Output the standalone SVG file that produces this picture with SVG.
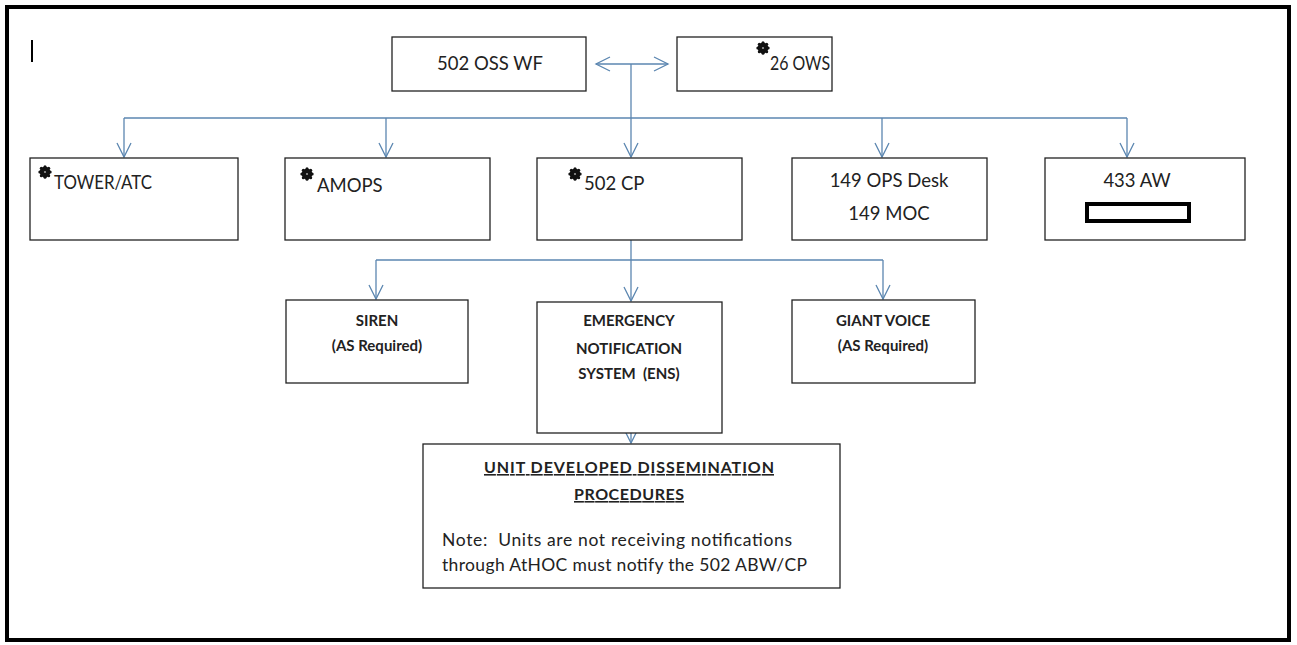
<svg xmlns="http://www.w3.org/2000/svg" width="1297" height="645" viewBox="0 0 1297 645">
<defs>
<style>
.box{fill:#fff;stroke:#222;stroke-width:1.3}
.t{font-family:Lato,"Liberation Sans",sans-serif;font-size:18.5px;fill:#222}
.b{font-family:Lato,"Liberation Sans",sans-serif;font-size:15px;font-weight:bold;fill:#222}
.u{font-family:Lato,"Liberation Sans",sans-serif;font-size:16px;font-weight:bold;fill:#222;text-decoration:underline}
.n{font-family:Lato,"Liberation Sans",sans-serif;font-size:17.5px;fill:#222}
.c{fill:none;stroke:#5b86b0;stroke-width:1.3}
</style>
<marker id="ah" markerUnits="userSpaceOnUse" viewBox="-16 -9 18 18" markerWidth="18" markerHeight="18" refX="0" refY="0" orient="auto-start-reverse">
<path d="M-14,-7 L0,0 L-14,7" fill="none" stroke="#5b86b0" stroke-width="1.3"/>
</marker>
<symbol id="bul" viewBox="-7 -7 14 14" overflow="visible">
<circle r="5.4" fill="#111"/>
<circle cx="0" cy="-5.2" r="1.5" fill="#111"/><circle cx="3.7" cy="-3.7" r="1.5" fill="#111"/><circle cx="5.2" cy="0" r="1.5" fill="#111"/><circle cx="3.7" cy="3.7" r="1.5" fill="#111"/><circle cx="0" cy="5.2" r="1.5" fill="#111"/><circle cx="-3.7" cy="3.7" r="1.5" fill="#111"/><circle cx="-5.2" cy="0" r="1.5" fill="#111"/><circle cx="-3.7" cy="-3.7" r="1.5" fill="#111"/>
<circle r="1.1" fill="#999"/>
</symbol>
</defs>
<rect x="0" y="0" width="1297" height="645" fill="#fff"/>
<rect x="7" y="7" width="1282" height="633" fill="none" stroke="#000" stroke-width="4"/>
<line x1="32" y1="40" x2="32" y2="62" stroke="#000" stroke-width="2"/>

<g id="connectors">
<line class="c" x1="596" y1="64" x2="668" y2="64" marker-start="url(#ah)" marker-end="url(#ah)"/>
<path class="c" d="M631,64 V118"/>
<path class="c" d="M124,118 H1127"/>
<path class="c" d="M124,118 V157" marker-end="url(#ah)"/>
<path class="c" d="M386,118 V157" marker-end="url(#ah)"/>
<path class="c" d="M631,118 V157" marker-end="url(#ah)"/>
<path class="c" d="M882,118 V157" marker-end="url(#ah)"/>
<path class="c" d="M1127,118 V157" marker-end="url(#ah)"/>
<path class="c" d="M631,240 V301" marker-end="url(#ah)"/>
<path class="c" d="M376,260 H883"/>
<path class="c" d="M376,260 V299" marker-end="url(#ah)"/>
<path class="c" d="M883,260 V299" marker-end="url(#ah)"/>
<path class="c" d="M631,433 V443" marker-end="url(#ah)"/>
</g>

<g id="n-oss"><rect class="box" x="392" y="37" width="194" height="54"/><text class="t" x="490" y="70" text-anchor="middle">502 OSS WF</text></g>
<g id="n-ows"><rect class="box" x="677" y="37" width="155" height="54"/><use href="#bul" x="756" y="41" width="14" height="14"/><text class="t" x="770" y="70" textLength="60" lengthAdjust="spacingAndGlyphs">26 OWS</text></g>

<g id="n-tower"><rect class="box" x="30" y="158" width="208" height="82"/><use href="#bul" x="38" y="165" width="14" height="14"/><text class="t" x="54" y="189" textLength="98" lengthAdjust="spacingAndGlyphs">TOWER/ATC</text></g>
<g id="n-amops"><rect class="box" x="285" y="158" width="205" height="82"/><use href="#bul" x="300" y="167" width="14" height="14"/><text class="t" x="317" y="192">AMOPS</text></g>
<g id="n-cp"><rect class="box" x="537" y="158" width="205" height="82"/><use href="#bul" x="568" y="167" width="14" height="14"/><text class="t" x="584" y="190">502 CP</text></g>
<g id="n-ops"><rect class="box" x="792" y="158" width="195" height="82"/><text class="t" x="889" y="187" text-anchor="middle">149 OPS Desk</text><text class="t" x="889" y="220" text-anchor="middle">149 MOC</text></g>
<g id="n-aw"><rect class="box" x="1045" y="158" width="200" height="82"/><text class="t" x="1137" y="187" text-anchor="middle">433 AW</text><rect x="1087" y="204" width="102" height="17" fill="#fff" stroke="#000" stroke-width="4"/></g>

<g id="n-siren"><rect class="box" x="286" y="300" width="182" height="83"/><text class="b" x="377" y="326" text-anchor="middle">SIREN</text><text class="b" x="377" y="351" text-anchor="middle">(AS Required)</text></g>
<g id="n-ens"><rect class="box" x="537" y="302" width="185" height="131"/><text class="b" x="629" y="326" text-anchor="middle">EMERGENCY</text><text class="b" x="629" y="354" text-anchor="middle">NOTIFICATION</text><text class="b" x="629" y="379" text-anchor="middle" xml:space="preserve">SYSTEM  (ENS)</text></g>
<g id="n-giant"><rect class="box" x="792" y="300" width="183" height="83"/><text class="b" x="883" y="326" text-anchor="middle">GIANT VOICE</text><text class="b" x="883" y="351" text-anchor="middle">(AS Required)</text></g>

<g id="n-unit"><rect class="box" x="423" y="444" width="417" height="144"/>
<text class="u" x="484" y="473" textLength="290" lengthAdjust="spacing">UNIT DEVELOPED  DISSEMINATION</text>
<text class="u" x="574" y="500" textLength="110" lengthAdjust="spacing">PROCEDURES</text>
<text class="n" x="442" y="546" textLength="350" lengthAdjust="spacing" xml:space="preserve">Note:  Units are not receiving notifications</text>
<text class="n" x="442" y="571" textLength="365" lengthAdjust="spacing">through AtHOC must notify the 502 ABW/CP</text>
</g>
</svg>
